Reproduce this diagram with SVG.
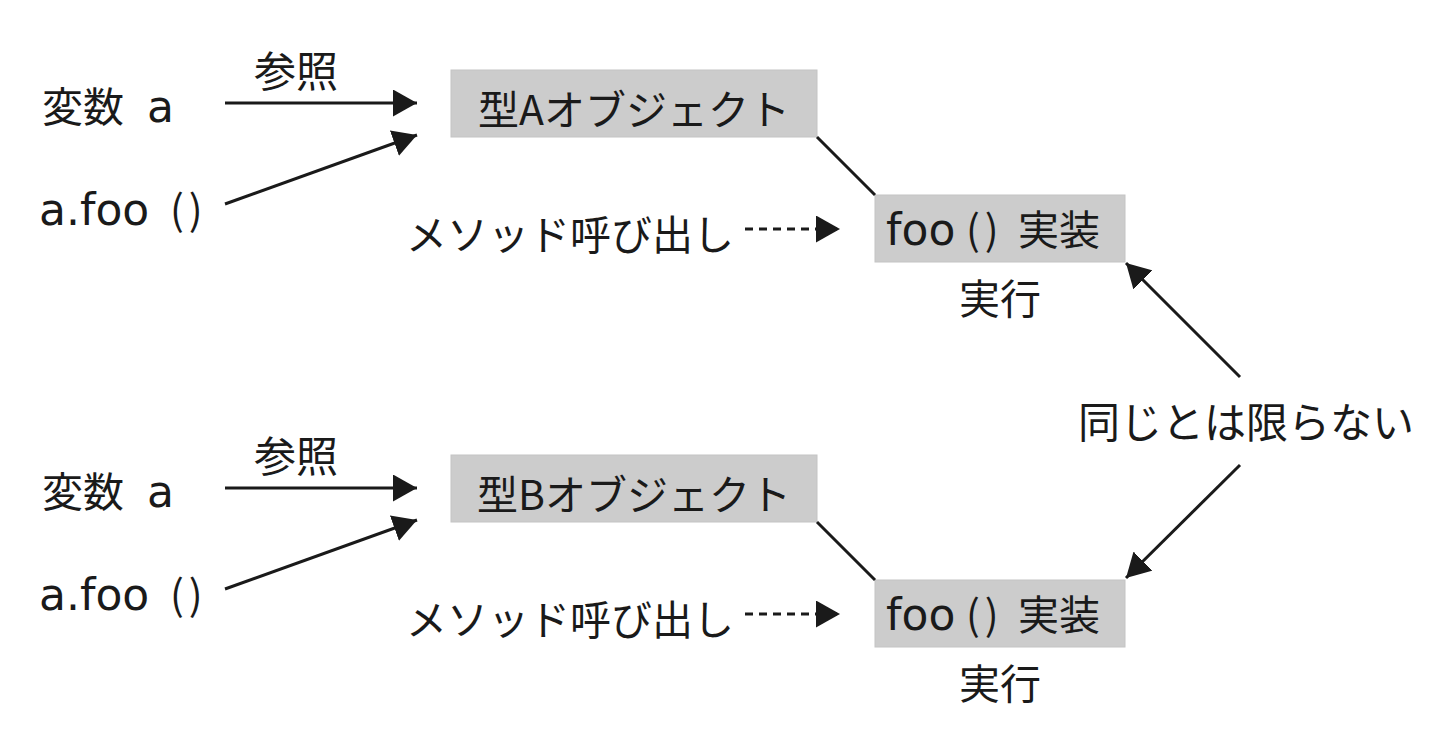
<svg xmlns="http://www.w3.org/2000/svg" width="1448" height="736" viewBox="0 0 1448 736">
  <style>
    .t { font-family: "Noto Sans CJK JP", "Noto Sans", sans-serif; font-size: 41px; fill: #1a1a1a; }
    .big { font-size: 42px; }
    .lat { font-family: "DejaVu Sans", "Noto Sans CJK JP", sans-serif; font-size: 44px; }
    .par { font-family: "Noto Sans CJK JP", sans-serif; font-size: 41px; letter-spacing: 5px; }
    .box { fill: #cccccc; stroke: #c4c4c4; stroke-width: 1; }
    .ln { stroke: #1a1a1a; stroke-width: 3; fill: none; }
    .dash { stroke: #1a1a1a; stroke-width: 3; fill: none; stroke-dasharray: 8 6; }
  </style>
  <defs>
    <marker id="ah" markerWidth="8" markerHeight="9" refX="8" refY="4.5" orient="auto" markerUnits="strokeWidth">
      <path d="M0,0 L8,4.5 L0,9 Z" fill="#1a1a1a"/>
    </marker>
  </defs>

  <rect width="1448" height="736" fill="#ffffff"/>

  <!-- upper scenario -->
  <g id="varA"><text class="t" x="42" y="122">変数<tspan class="lat" x="147">a</tspan></text></g>
  <g id="callA"><text class="t" y="225"><tspan class="lat" x="39">a.foo</tspan><tspan class="par" x="170">()</tspan></text></g>
  <g id="refLabelA"><text class="t big" x="254" y="87">参照</text></g>
  <g id="methodCallA"><text class="t" x="406" y="250">メソッド呼び出し</text></g>
  <g id="objA">
    <rect class="box" x="451" y="70" width="366" height="67"/>
    <text class="t" x="634" y="125" text-anchor="middle">型Aオブジェクト</text>
  </g>
  <g id="implA">
    <rect class="box" x="875" y="195" width="250" height="67"/>
    <text class="t" y="245"><tspan class="lat" x="886">foo</tspan><tspan class="par" x="966">()</tspan><tspan x="1018">実装</tspan></text>
  </g>
  <g id="execA"><text class="t" x="1000" y="314" text-anchor="middle">実行</text></g>

  <!-- lower scenario -->
  <g id="varB"><text class="t" x="42" y="507">変数<tspan class="lat" x="147">a</tspan></text></g>
  <g id="callB"><text class="t" y="610"><tspan class="lat" x="39">a.foo</tspan><tspan class="par" x="170">()</tspan></text></g>
  <g id="refLabelB"><text class="t big" x="254" y="472">参照</text></g>
  <g id="methodCallB"><text class="t" x="406" y="635">メソッド呼び出し</text></g>
  <g id="objB">
    <rect class="box" x="451" y="455" width="366" height="67"/>
    <text class="t" x="634" y="510" text-anchor="middle">型Bオブジェクト</text>
  </g>
  <g id="implB">
    <rect class="box" x="875" y="580" width="250" height="67"/>
    <text class="t" y="630"><tspan class="lat" x="886">foo</tspan><tspan class="par" x="966">()</tspan><tspan x="1018">実装</tspan></text>
  </g>
  <g id="execB"><text class="t" x="1000" y="699" text-anchor="middle">実行</text></g>

  <!-- shared note -->
  <g id="note"><text class="t big" x="1246" y="438" text-anchor="middle">同じとは限らない</text></g>

  <g id="connectors">
    <line class="ln" x1="225" y1="103" x2="417" y2="103" marker-end="url(#ah)"/>
    <line class="ln" x1="225" y1="204" x2="417" y2="135" marker-end="url(#ah)"/>
    <line class="dash" x1="745" y1="229" x2="840" y2="229" marker-end="url(#ah)"/>
    <line class="ln" x1="817" y1="137" x2="875" y2="195"/>

    <line class="ln" x1="225" y1="488" x2="417" y2="488" marker-end="url(#ah)"/>
    <line class="ln" x1="225" y1="589" x2="417" y2="520" marker-end="url(#ah)"/>
    <line class="dash" x1="745" y1="614" x2="840" y2="614" marker-end="url(#ah)"/>
    <line class="ln" x1="817" y1="522" x2="875" y2="580"/>

    <line class="ln" x1="1240" y1="377" x2="1126" y2="263" marker-end="url(#ah)"/>
    <line class="ln" x1="1240" y1="465" x2="1126" y2="578" marker-end="url(#ah)"/>
  </g>
</svg>
